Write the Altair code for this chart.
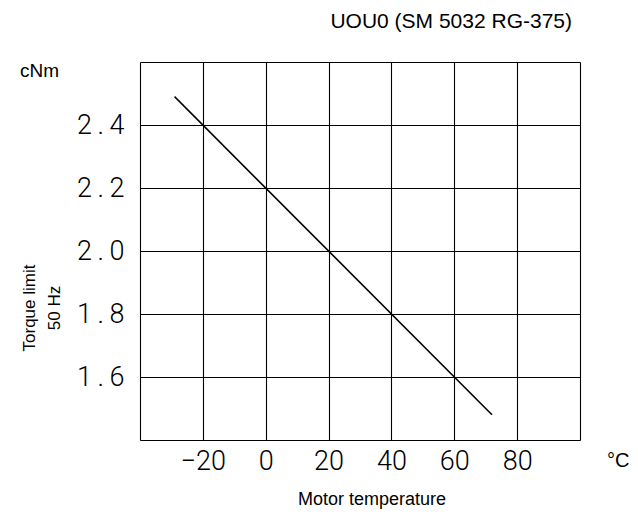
import altair as alt
import pandas as pd

# Data
temps = [-29, 72]
torque = [2.49, 1.48]
x_ticks = [-40, -20, 0, 20, 40, 60, 80, 100]
y_ticks = [1.4, 1.6, 1.8, 2.0, 2.2, 2.4, 2.6]

title_text = "UOU0 (SM 5032 RG-375)"
y_unit = "cNm"
x_unit = "°C"
x_title = "Motor temperature"
y_title = ["Torque limit", "50 Hz"]

W, H = 440, 378
LABEL_FONT = "Roboto"
TEXT_FONT = "Liberation Sans, Arial, Helvetica, sans-serif"

df = pd.DataFrame({"t": temps, "m": torque})

line = alt.Chart(df).mark_line(color="black", strokeWidth=1.6).encode(
    x=alt.X("t:Q",
            scale=alt.Scale(domain=[-40, 100], nice=False, zero=False),
            axis=alt.Axis(values=x_ticks, grid=True, ticks=False, domain=False,
                          title=None, labelFont=LABEL_FONT, labelFontSize=27,
                          labelFontWeight=300,
                          labelColor="black", labelPadding=8,
                          labelExpr="datum.value == -40 || datum.value == 100 ? '' : datum.label",
                          gridColor="black", gridOpacity=1, gridWidth=1.1)),
    y=alt.Y("m:Q",
            scale=alt.Scale(domain=[1.4, 2.6], nice=False, zero=False),
            axis=alt.Axis(values=y_ticks, grid=True, ticks=False, domain=False,
                          title=None, format=".1f", labelFont=LABEL_FONT,
                          labelFontSize=27, labelFontWeight=300,
                          labelColor="black", labelPadding=16,
                          labelExpr="datum.value < 1.5 || datum.value > 2.5 ? '' : replace(datum.label, '.', '\u2009.\u2009')",
                          gridColor="black", gridOpacity=1, gridWidth=1.1)),
)

def label(text, x, y, size, align="left", angle=0):
    return alt.Chart(pd.DataFrame({"txt": [text]})).mark_text(
        font=TEXT_FONT, fontSize=size, color="black", align=align,
        baseline="middle", angle=angle
    ).encode(x=alt.value(x), y=alt.value(y), text="txt:N")

texts = [
    label(title_text, 432, -40, 21, align="right"),
    label(y_unit, -120, 9, 19),
    label(x_unit, 467, 399, 20),
    label(x_title, 232, 438, 18, align="center"),
    label(y_title[0], -110, 246, 17, align="center", angle=270),
    label(y_title[1], -85, 246, 17, align="center", angle=270),
]

chart = alt.layer(line, *texts).properties(
    width=W, height=H,
    autosize=alt.AutoSizeParams(type="none"),
    padding={"left": 132, "top": 54, "right": 50, "bottom": 70},
).configure_view(stroke="black", strokeWidth=1.5).configure(background="white")

chart.save("out.html", embed_options={"renderer": "svg", "actions": False})
